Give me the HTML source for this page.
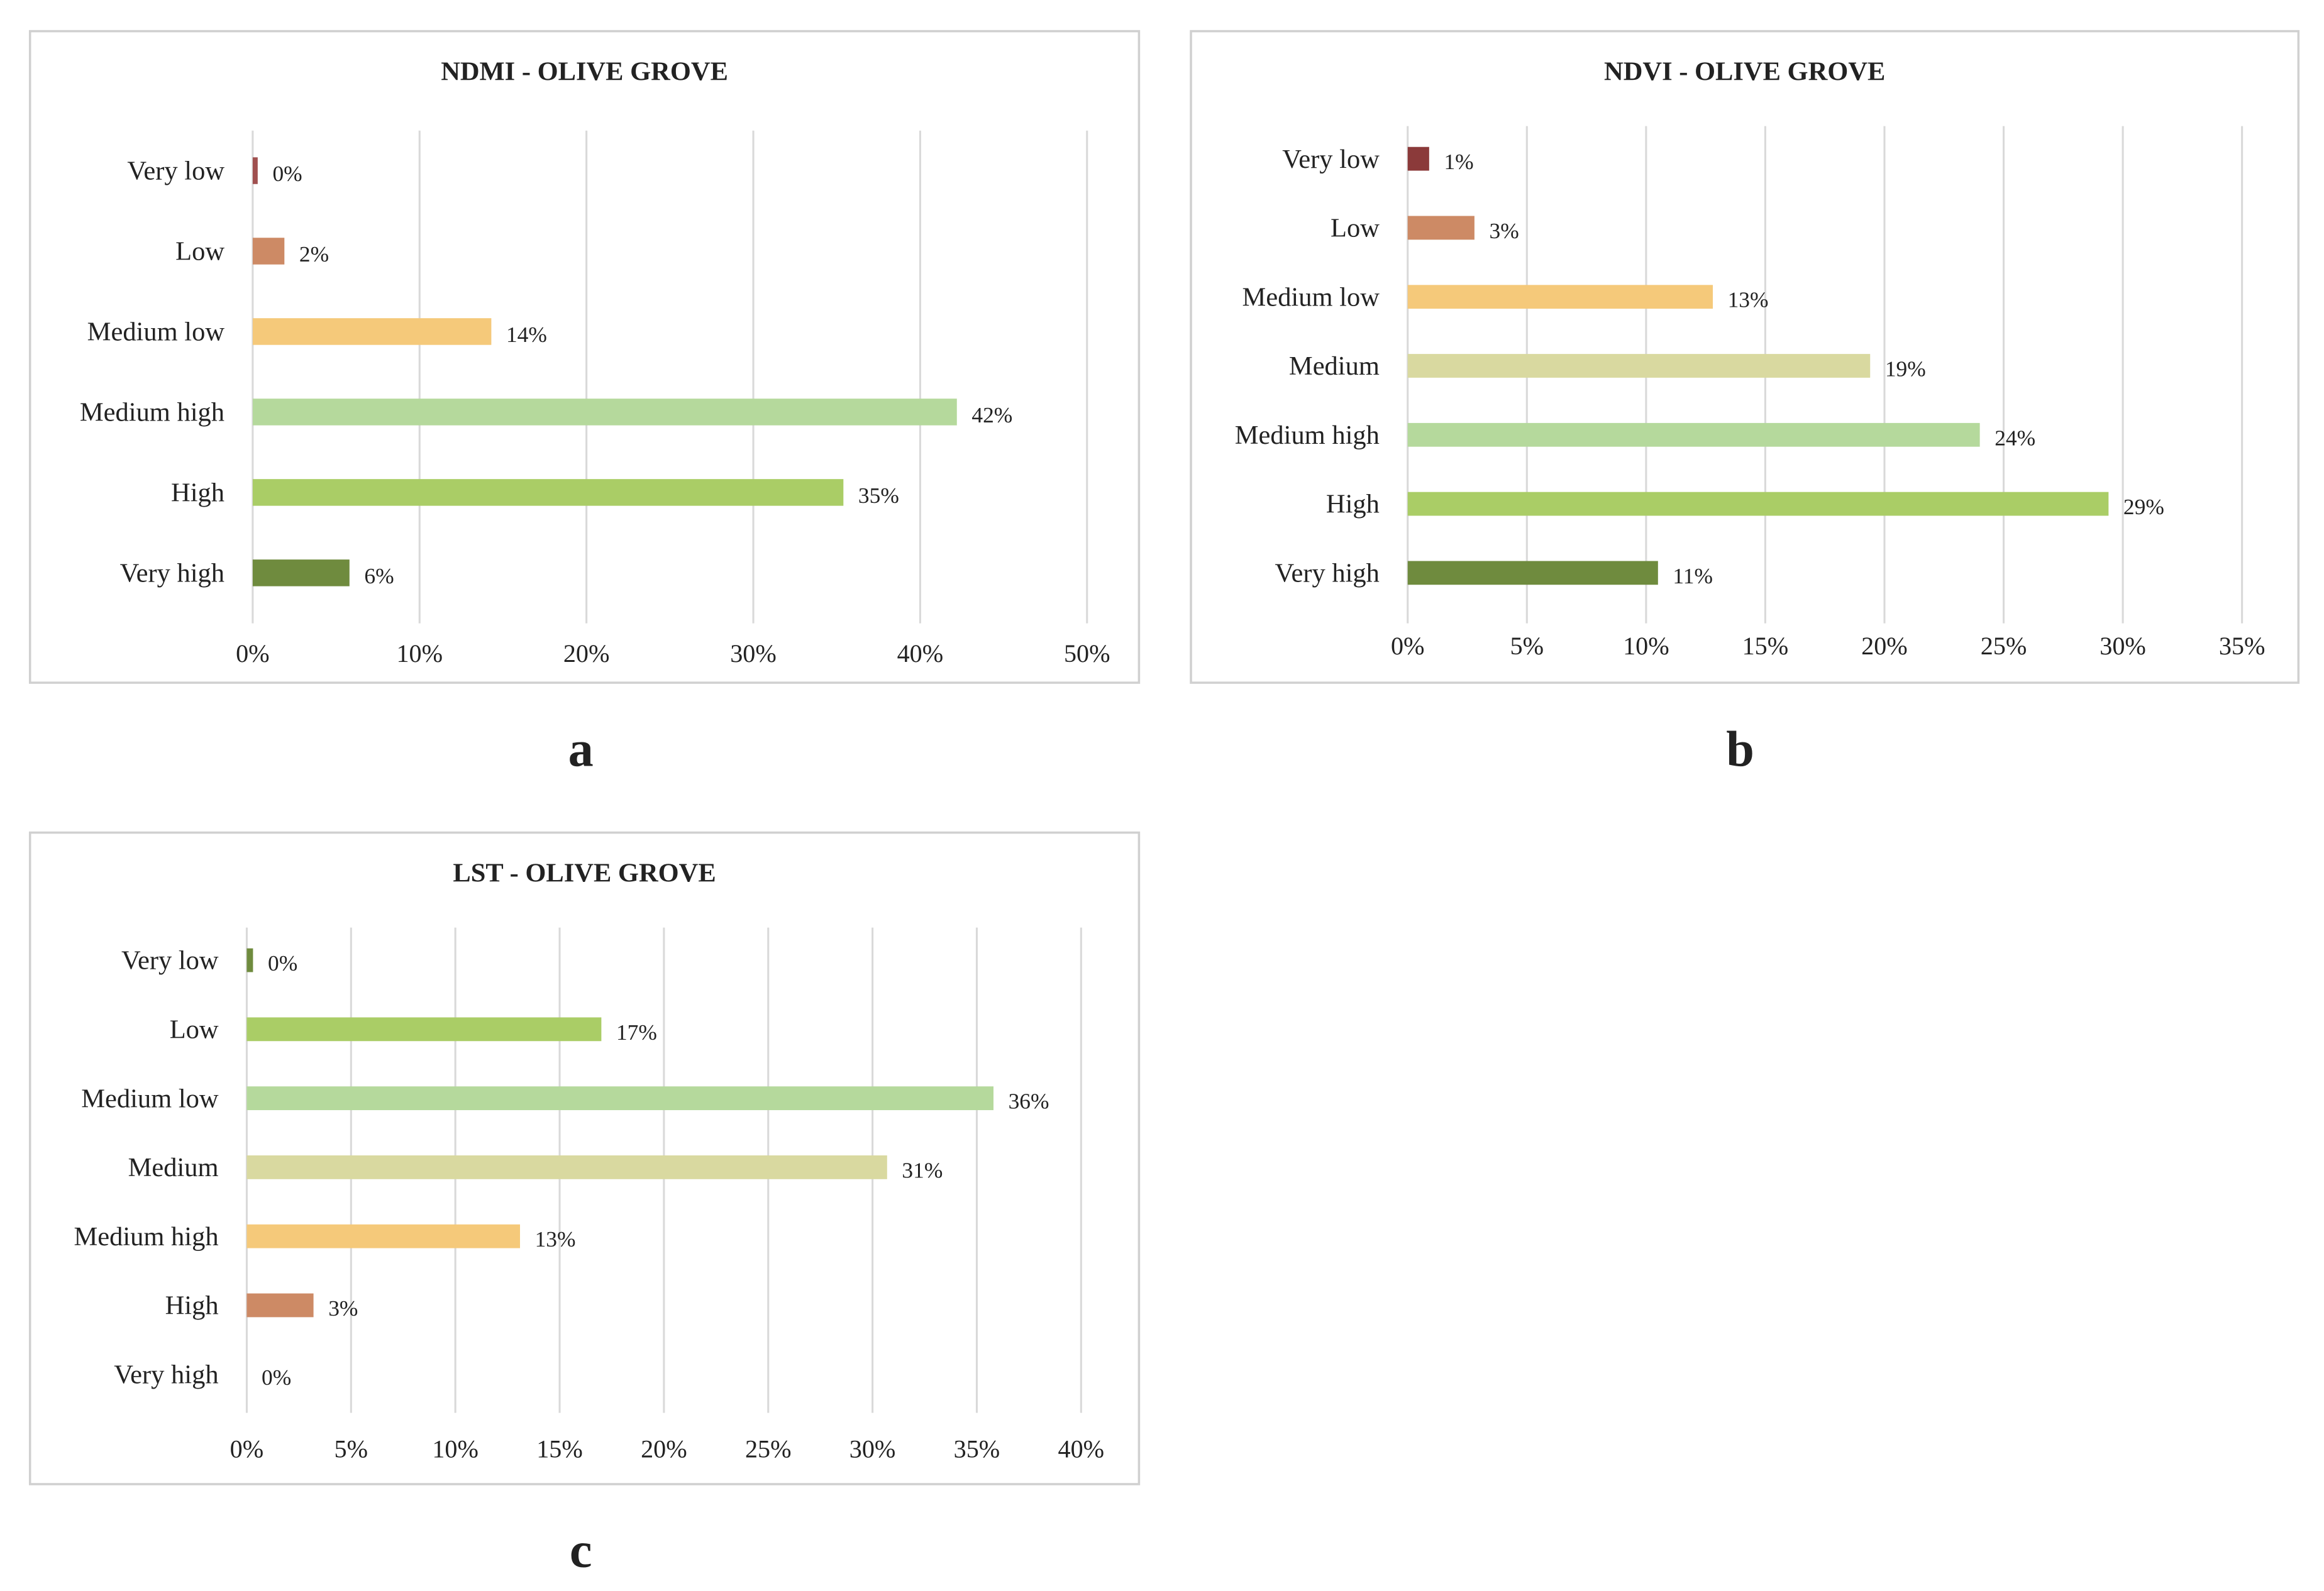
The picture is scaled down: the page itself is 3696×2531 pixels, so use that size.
<!DOCTYPE html>
<html><head><meta charset="utf-8"><style>
html,body{margin:0;padding:0;background:#fff;}
svg{display:block;}
text{font-family:"Liberation Serif",serif;fill:#222;}
</style></head><body>
<svg id="root" width="3696" height="2531" viewBox="0 0 1565 1072" xmlns="http://www.w3.org/2000/svg"></svg>
<script>
const NS="http://www.w3.org/2000/svg";
const root=document.getElementById('root');
// Chart a data
const catsA=["Very low","Low","Medium low","Medium high","High","Very high"];
const valsA=[0.3,1.9,14.3,42.2,35.4,5.8];
const colorsA=["#a0504f","#cd8a65","#f5c97a","#b5d99c","#aacd66","#6f8b3e"];
const ticksA=[0,10,20,30,40,50];
// Chart b data
const catsB=["Very low","Low","Medium low","Medium","Medium high","High","Very high"];
const valsB=[0.9,2.8,12.8,19.4,24.0,29.4,10.5];
const colorsB=["#8b3a3a","#cd8a65","#f5c97a","#d9d9a0","#b5d99c","#aacd66","#6f8b3e"];
const ticksB=[0,5,10,15,20,25,30,35];
// Chart c data
const catsC=["Very low","Low","Medium low","Medium","Medium high","High","Very high"];
const valsC=[0.3,17.0,35.8,30.7,13.1,3.2,0];
const colorsC=["#6f8b3e","#aacd66","#b5d99c","#d9d9a0","#f5c97a","#cd8a65","#6f8b3e"];
const ticksC=[0,5,10,15,20,25,30,35,40];

function el(tag,attrs,parent,txt){const e=document.createElementNS(NS,tag);for(const k in attrs)e.setAttribute(k,attrs[k]);if(txt!==undefined)e.textContent=txt;(parent||root).appendChild(e);return e;}

function chart(cfg,cats,vals,colors,ticks){
  const g=el('g',{});
  
  
  const fr=el('rect',{x:cfg.fx,y:cfg.fy,width:cfg.fw,height:cfg.fh,fill:'#fff',stroke:'#d0d0d0','stroke-width':1.5},g);
  
  
  const t=el('text',{x:cfg.fx+cfg.fw/2,y:cfg.fy+33,'text-anchor':'middle','font-size':18,'font-weight':'bold'},g,cfg.title);
  
  
  const max=ticks[ticks.length-1];
  const xs=v=>cfg.x0+(cfg.x1-cfg.x0)*v/max;
  const ys=i=>cfg.r0+cfg.step*i;
  ticks.forEach(tv=>{
    const l=el('line',{x1:xs(tv),x2:xs(tv),y1:cfg.gy0,y2:cfg.gy1,stroke:'#d9d9d9','stroke-width':1.3},g);
    
    
    const tl=el('text',{x:xs(tv),y:cfg.ty,'text-anchor':'middle','font-size':17},g,tv+'%');
    
    
  });
  cats.forEach((c,i)=>{
    const y=ys(i);
    const lb=el('text',{x:cfg.x0-19,y:y+6,'text-anchor':'end','font-size':18},g,c);
    
    
    const w=xs(vals[i])-cfg.x0;
    if(w>0){
      const b=el('rect',{x:cfg.x0,y:y-cfg.bh/2,width:w,height:cfg.bh,fill:colors[i]},g);
      
      
    }
    const vl=el('text',{x:xs(vals[i])+10,y:y+7,'font-size':15},g,Math.round(vals[i])+'%');
    
    
  });
  const cap=el('text',{x:cfg.capx,y:cfg.capy,'text-anchor':'middle','font-size':34,'font-weight':'bold'},g,cfg.cap);
  
  
}
chart({name:'ndmi-chart',title:'NDMI - OLIVE GROVE',fx:20,fy:21,fw:747,fh:439,x0:170,x1:732,gy0:88,gy1:420,ty:446,r0:115,step:54.2,bh:18,cap:'a',capx:391,capy:516},catsA,valsA,colorsA,ticksA);
chart({name:'ndvi-chart',title:'NDVI - OLIVE GROVE',fx:802,fy:21,fw:746,fh:439,x0:948,x1:1510,gy0:85,gy1:420,ty:441,r0:107,step:46.5,bh:16,cap:'b',capx:1172,capy:516},catsB,valsB,colorsB,ticksB);
chart({name:'lst-chart',title:'LST - OLIVE GROVE',fx:20,fy:561,fw:747,fh:439,x0:166,x1:728,gy0:625,gy1:952,ty:982,r0:647,step:46.5,bh:16,cap:'c',capx:391,capy:1056},catsC,valsC,colorsC,ticksC);
</script>
</body></html>
